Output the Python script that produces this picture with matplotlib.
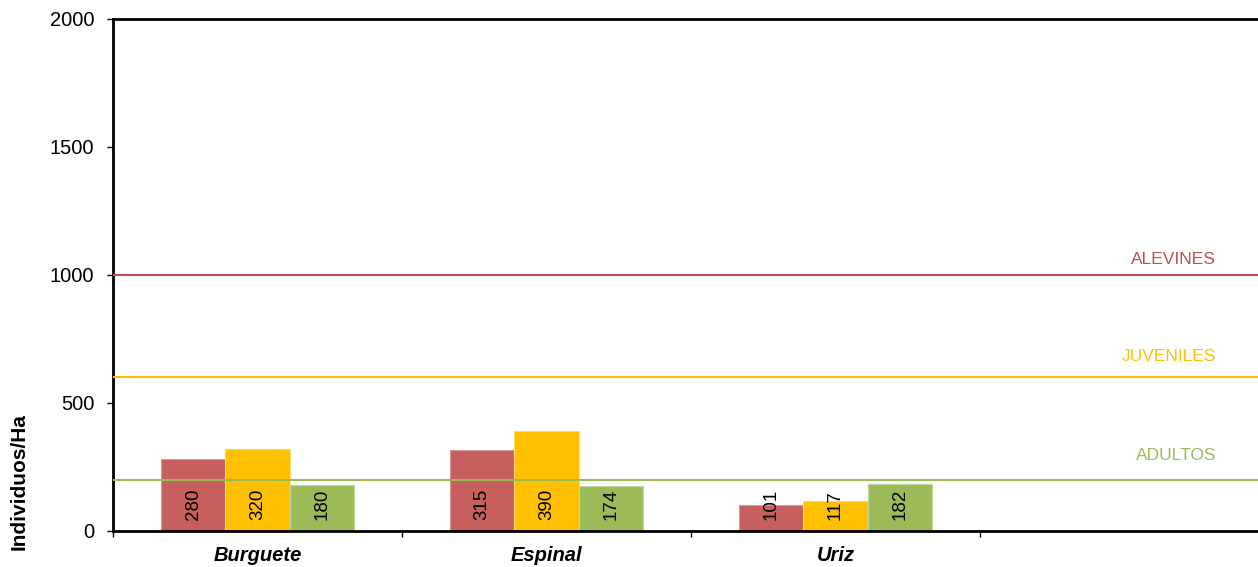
import numpy as np
import matplotlib.pyplot as plt

# Data
sites = ['Burguete', 'Espinal', 'Uriz']
alevines = [280, 315, 101]
juveniles = [320, 390, 117]
adultos = [180, 174, 182]
series = [alevines, juveniles, adultos]
series_names = ['ALEVINES', 'JUVENILES', 'ADULTOS']
thresholds = [1000, 600, 200]
yticks = [0, 500, 1000, 1500, 2000]

bar_colors = ['#C65F5D', '#FFC000', '#9BBB59']
edge_colors = ['#D99694', '#FFD966', '#C3D69B']
line_colors = ['#C0504D', '#FFC000', '#9BBB59']
label_offsets = [16, 21, 24]  # px above the reference lines

plt.rcParams['font.family'] = ['Liberation Sans', 'DejaVu Sans']

fig = plt.figure(figsize=(12.58, 5.67), dpi=100)
ax = fig.add_axes([113 / 1258, 1 - 531 / 567, 1156 / 1258, 512 / 567])

x = np.arange(len(sites)) + 0.5
w = 0.222
for i, vals in enumerate(series):
    xs = x + (i - 1) * w
    ax.bar(xs, vals, width=w, color=bar_colors[i], edgecolor=edge_colors[i],
           linewidth=0.8, zorder=2)
    for xi, v in zip(xs, vals):
        ax.annotate(str(v), (xi, 0), xytext=(0, 8), textcoords='offset points',
                    rotation=90, ha='center', va='bottom', fontsize=13.5,
                    color='black', zorder=4)

# reference lines
for name, val, c, off in zip(series_names, thresholds, line_colors, label_offsets):
    ax.axhline(val, color=c, lw=1.5, zorder=3)
    ax.annotate(name, (1216 / 1258, val), xycoords=('figure fraction', 'data'),
                xytext=(0, off * 0.72), textcoords='offset points',
                ha='right', va='center', fontsize=12.5, color=c)

ax.set_xlim(0, 4)
ax.set_ylim(0, 2000)
ax.set_yticks(yticks)
ax.tick_params(axis='y', direction='out', length=4.5, width=1, pad=9,
               labelsize=14.5)

ax.set_xticks([0, 1, 2, 3, 4])
ax.set_xticklabels([])
ax.set_xticks(x, minor=True)
ax.set_xticklabels(sites, minor=True, fontsize=14.5, fontweight='bold',
                   fontstyle='italic')
ax.tick_params(axis='x', which='major', direction='out', length=4, width=1)
ax.tick_params(axis='x', which='minor', length=0, pad=11)

for s in ['left', 'bottom', 'top']:
    ax.spines[s].set_linewidth(2)
ax.spines['right'].set_visible(False)

fig.text(19 / 1258, 1 - 482 / 567, 'Individuos/Ha', rotation=90, ha='center',
         va='center', fontsize=15, fontweight='bold')

fig.savefig('out.png', dpi=100)
